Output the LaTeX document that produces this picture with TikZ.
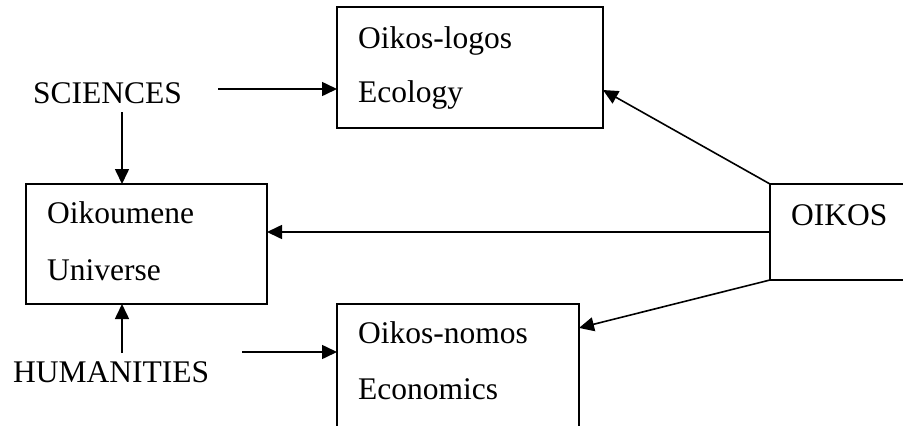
\documentclass[tikz,border=0pt]{standalone}
\usepackage{fontspec}
\setmainfont{Liberation Serif}
\usetikzlibrary{arrows.meta,calc}
\begin{document}
\begin{tikzpicture}[x=1pt,y=-1pt,
  box/.style={draw,line width=1.6pt,inner sep=0pt,outer sep=0pt,anchor=north west},
  lbl/.style={anchor=base west,inner sep=0pt,font=\fontsize{31.5}{36}\selectfont},
  arr/.style={line width=1.6pt,-{Triangle[length=15pt,width=14pt]}}]
\useasboundingbox (0,0) rectangle (903,426);
\clip (0,0) rectangle (903,426);
% boxes
\node[box,minimum width=266pt,minimum height=121pt] (eco) at (337,7) {};
\node[box,minimum width=241pt,minimum height=120pt] (oik) at (26,184) {};
\node[box,minimum width=242pt,minimum height=140pt] (econ) at (337,304) {};
\node[box,minimum width=150pt,minimum height=96pt] (oikos) at (770,184) {};
% texts
\node[lbl] (t1) at (358,48) {Oikos-logos};
\node[lbl] (t2) at (358,102) {Ecology};
\node[lbl] (t3) at (47,223) {Oikoumene};
\node[lbl] (t4) at (47,280) {Universe};
\node[lbl] (t5) at (358,343) {Oikos-nomos};
\node[lbl] (t6) at (358,399) {Economics};
\node[lbl] (t7) at (791,225) {OIKOS};
\node[lbl] (sci) at (33,103) {SCIENCES};
\node[lbl] (hum) at (13,382) {HUMANITIES};
% arrows
\coordinate (s1) at (218,89);
\coordinate (s2) at (122,112);
\coordinate (h1) at (122,353);
\coordinate (h2) at (242,352);
\draw[arr] (s1) -- (s1 -| eco.west);
\draw[arr] (s2) -- (s2 |- oik.north);
\draw[arr] (h1) -- (h1 |- oik.south);
\draw[arr] (h2) -- (h2 -| econ.west);
\draw[arr] (oikos.north west) -- ($(eco.north east)!0.686!(eco.south east)$);
\draw[arr] (oikos.west) -- (oikos.west -| oik.east);
\draw[arr] (oikos.south west) -- ($(econ.north east)!0.171!(econ.south east)$);
\end{tikzpicture}
\end{document}
